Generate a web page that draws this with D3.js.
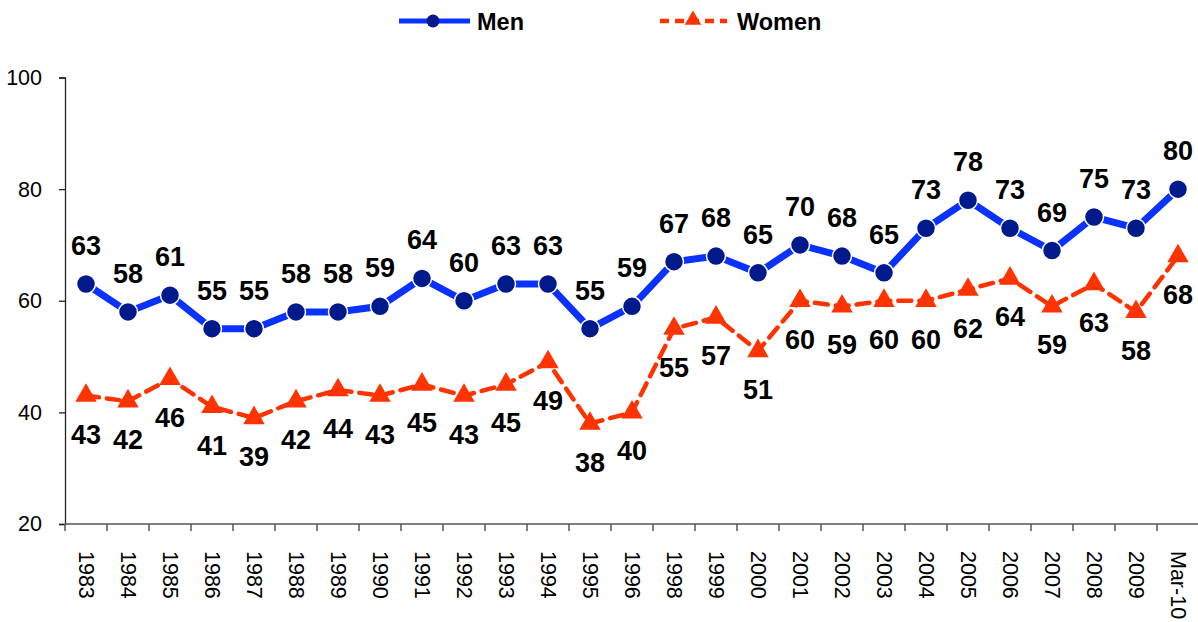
<!DOCTYPE html>
<html><head><meta charset="utf-8">
<script src="https://cdn.jsdelivr.net/npm/d3@7"></script>
<style>body{margin:0;background:#fff}svg{display:block}text{font-family:"Liberation Sans",Arial,sans-serif}</style>
</head><body>
<svg id="c" width="1198" height="622"></svg>
<script>
const categories = ["1983","1984","1985","1986","1987","1988","1989","1990","1991","1992","1993","1994","1995","1996","1998","1999","2000","2001","2002","2003","2004","2005","2006","2007","2008","2009","Mar-10"];
const men = [63,58,61,55,55,58,58,59,64,60,63,63,55,59,67,68,65,70,68,65,73,78,73,69,75,73,80];
const women = [43,42,46,41,39,42,44,43,45,43,45,49,38,40,55,57,51,60,59,60,60,62,64,59,63,58,68];
const yTicks = [20,40,60,80,100];

const svg = d3.select("#c");
const x = d3.scaleBand().domain(categories).range([65,1199]);
const y = d3.scaleLinear().domain([20,100]).range([524,77.5]);
const cx = d => x(d) + x.bandwidth()/2;
const menColor = "#0a32ff", menMarker = "#001a8c", womenColor = "#ff3300";

// Y axis
const ya = svg.append("g").attr("transform","translate(65,0)")
  .call(d3.axisLeft(y).tickValues(yTicks).tickSize(6).tickPadding(17));
ya.select(".domain").attr("stroke","#222").attr("stroke-width",1.3);
ya.selectAll(".tick line").attr("stroke","#222").attr("stroke-width",1.3);
ya.selectAll(".tick text").attr("font-size","21.5px").attr("fill","#000").style("font-family","Liberation Sans, Arial, sans-serif");

// X axis
const xg = svg.append("g");
xg.append("line").attr("x1",65).attr("x2",1198).attr("y1",524).attr("y2",524).attr("stroke","#555").attr("stroke-width",1.5);
xg.selectAll("line.t").data(categories).enter().append("line").attr("class","t")
  .attr("x1",d=>x(d)).attr("x2",d=>x(d)).attr("y1",524).attr("y2",531).attr("stroke","#555").attr("stroke-width",1.5);
xg.selectAll("text").data(categories).enter().append("text")
  .attr("transform",d=>`translate(${cx(d)},551) rotate(90)`)
  .attr("dominant-baseline","central").attr("text-anchor","start")
  .attr("font-size","21.5px").attr("fill","#000").text(d=>d);

// Lines
const lineGen = vals => d3.line().x((v,i)=>cx(categories[i])).y(v=>y(v))(vals);
svg.append("path").attr("d",lineGen(women)).attr("fill","none").attr("stroke",womenColor)
  .attr("stroke-width",4.5).attr("stroke-dasharray","13,8").attr("stroke-linecap","round");
svg.append("path").attr("d",lineGen(men)).attr("fill","none").attr("stroke",menColor).attr("stroke-width",7);

// Markers
const tri = d3.symbol().type(d3.symbolTriangle).size(200);
svg.selectAll("path.wm").data(women).enter().append("path").attr("class","wm")
  .attr("d",tri).attr("transform",(v,i)=>`translate(${cx(categories[i])},${y(v)})`).attr("fill",womenColor);
svg.selectAll("circle.mm").data(men).enter().append("circle").attr("class","mm")
  .attr("cx",(v,i)=>cx(categories[i])).attr("cy",v=>y(v)).attr("r",9.5)
  .attr("fill",menMarker).attr("stroke","#fff").attr("stroke-width",1.5);

// Labels
svg.selectAll("text.ml").data(men).enter().append("text").attr("class","ml")
  .attr("x",(v,i)=>cx(categories[i])).attr("y",v=>y(v)-29).attr("text-anchor","middle")
  .attr("font-size","27px").attr("font-weight","bold").attr("fill","#000").text(v=>v);
svg.selectAll("text.wl").data(women).enter().append("text").attr("class","wl")
  .attr("x",(v,i)=>cx(categories[i])).attr("y",v=>y(v)+48).attr("text-anchor","middle")
  .attr("font-size","27px").attr("font-weight","bold").attr("fill","#000").text(v=>v);

// Legend
const lg = svg.append("g");
lg.append("line").attr("x1",399).attr("x2",470).attr("y1",21).attr("y2",21).attr("stroke",menColor).attr("stroke-width",5);
lg.append("circle").attr("cx",433).attr("cy",21).attr("r",6.5).attr("fill",menMarker);
lg.append("text").attr("x",477).attr("y",30).attr("font-size","23.5px").attr("font-weight","bold").text("Men");
lg.append("line").attr("x1",660).attr("x2",727).attr("y1",21).attr("y2",21).attr("stroke",womenColor).attr("stroke-width",4.5).attr("stroke-dasharray","9,6");
lg.append("path").attr("d",d3.symbol().type(d3.symbolTriangle).size(120)).attr("transform","translate(693,20)").attr("fill",womenColor);
lg.append("text").attr("x",737).attr("y",30).attr("font-size","23.5px").attr("font-weight","bold").text("Women");
</script>
</body></html>
